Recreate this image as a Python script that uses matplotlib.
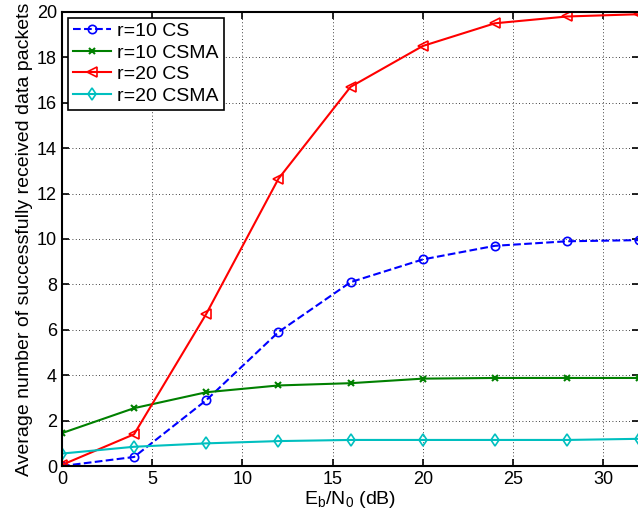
import numpy as np
import matplotlib
matplotlib.use('Agg')
from matplotlib import pyplot as plt

plt.rcParams['font.family'] = ['Liberation Sans', 'DejaVu Sans']

# Eb/N0 (dB)
snr = [0, 4, 8, 12, 16, 20, 24, 28, 32]

# average number of successfully received data packets
r10_cs = [0.0, 0.4, 2.9, 5.9, 8.1, 9.1, 9.7, 9.9, 9.95]
r10_csma = [1.45, 2.55, 3.25, 3.55, 3.65, 3.85, 3.88, 3.88, 3.88]
r20_cs = [0.05, 1.4, 6.7, 12.65, 16.7, 18.5, 19.5, 19.8, 19.9]
r20_csma = [0.55, 0.85, 1.0, 1.1, 1.15, 1.15, 1.15, 1.15, 1.2]

labels = ['r=10 CS', 'r=10 CSMA', 'r=20 CS', 'r=20 CSMA']

fig = plt.figure(figsize=(6.38, 5.19), dpi=100)
ax = fig.add_axes([0.097, 0.102, 0.905, 0.875])

ax.plot(snr, r10_cs, '--o', color='#0000ff', lw=1.5, ms=6, mfc='none', mew=1.2, label=labels[0])
ax.plot(snr, r10_csma, '-x', color='#008000', lw=1.5, ms=5, mew=1.5, label=labels[1])
ax.plot(snr, r20_cs, '-<', color='#ff0000', lw=1.5, ms=7, mfc='none', mew=1.2, label=labels[2])
ax.plot(snr, r20_csma, '-d', color='#00bfbf', lw=1.5, ms=6, mfc='none', mew=1.2, label=labels[3])

ax.set_xlim(0, 32)
ax.set_ylim(0, 20)
ax.set_xticks([0, 5, 10, 15, 20, 25, 30])
ax.set_yticks(np.arange(0, 21, 2))
ax.grid(True, color='black', linestyle=(0, (1, 3)), linewidth=0.6)
ax.tick_params(direction='in', top=True, right=True, labelsize=13, length=5, width=1.2)
for s in ax.spines.values():
    s.set_linewidth(1.5)

ax.set_xlabel('E$_\\mathregular{b}$/N$_\\mathregular{0}$ (dB)', fontsize=14, labelpad=1)
ax.set_ylabel('Average number of successfully received data packets', fontsize=14, labelpad=3)

leg = ax.legend(loc='upper left', fontsize=14, fancybox=False, framealpha=1,
                edgecolor='black', borderaxespad=0.3, handlelength=2.0,
                labelspacing=0.2, borderpad=0.25, handletextpad=0.3)
leg.get_frame().set_linewidth(1.2)

fig.savefig('out.png', dpi=100)
